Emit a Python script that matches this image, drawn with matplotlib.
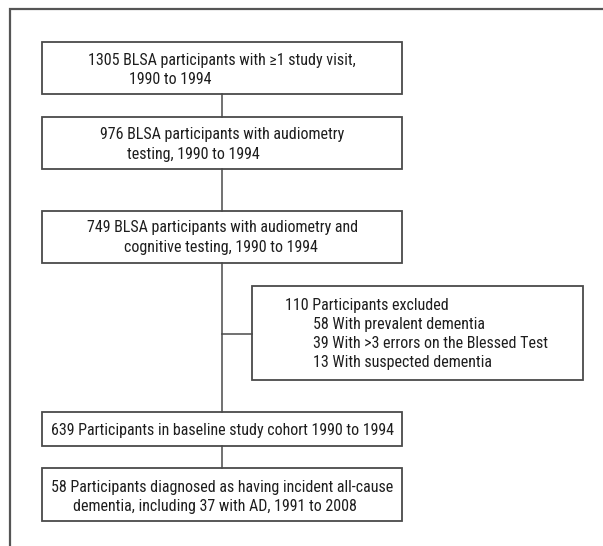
import matplotlib
matplotlib.use("Agg")
import matplotlib.pyplot as plt
from matplotlib.patches import Rectangle

plt.rcParams['font.family'] = ['Roboto Condensed', 'DejaVu Sans']

# ---- content ----
main_lines = [
    ["1305 BLSA participants with \u22651 study visit,", "1990 to 1994"],
    ["976 BLSA participants with audiometry", "testing, 1990 to 1994"],
    ["749 BLSA participants with audiometry and", "cognitive testing, 1990 to 1994"],
    ["639 Participants in baseline study cohort 1990 to 1994"],
    ["58 Participants diagnosed as having incident all-cause", "dementia, including 37 with AD, 1991 to 2008"],
]
excl_title = "110 Participants excluded"
excl_items = ["58 With prevalent dementia",
              "39 With >3 errors on the Blessed Test",
              "13 With suspected dementia"]

# ---- layout (pixel coordinates) ----
W, H = 603, 546
box_x0, box_x1 = 42, 402.3
box_y = [(41.7, 94.3), (117.3, 169.3), (210.7, 263.3), (412.3, 445.7), (468.0, 521.3)]
line_y = [(60, 79), (135, 154), (227.7, 247.3), (430,), (487.3, 506.7)]
second_x = [128.6, 126.7, 123.6, None, 72.8]
cx = 222.3
ex_x0, ex_x1, ex_y0, ex_y1 = 252, 583.3, 286.3, 379.7
branch_y = 333.7
ex_title_x, ex_item_x = 285, 312.7
ex_line_y = [305.3, 324.7, 343, 362.3]

edge = '#4a4a4a'
txt = '#1e1e1e'
fs = 11.55

fig = plt.figure(figsize=(W / 100, H / 100), dpi=100)
ax = fig.add_axes([0, 0, 1, 1])
ax.set_xlim(0, W)
ax.set_ylim(H, 0)
ax.axis('off')

# outer frame (top and left sides visible)
ax.plot([10, 10, W + 5], [H + 5, 9.3, 9.3], color='#555555', lw=1.6, solid_joinstyle='miter')

# main boxes
for (y0, y1), lines, ys, sx in zip(box_y, main_lines, line_y, second_x):
    ax.add_patch(Rectangle((box_x0, y0), box_x1 - box_x0, y1 - y0,
                           fill=False, edgecolor=edge, lw=1.3))
    ax.text(cx, ys[0], lines[0], ha='center', va='center', fontsize=fs, color=txt)
    if len(lines) > 1:
        ax.text(sx, ys[1], lines[1], ha='left', va='center', fontsize=fs, color=txt)

# connectors
for (a0, a1), (b0, b1) in zip(box_y[:-1], box_y[1:]):
    ax.plot([cx, cx], [a1, b0], color=edge, lw=1.1)
ax.plot([cx, ex_x0], [branch_y, branch_y], color=edge, lw=1.1)

# exclusion box
ax.add_patch(Rectangle((ex_x0, ex_y0), ex_x1 - ex_x0, ex_y1 - ex_y0,
                       fill=False, edgecolor=edge, lw=1.3))
ax.text(ex_title_x, ex_line_y[0], excl_title, ha='left', va='center', fontsize=fs, color=txt)
for y, s in zip(ex_line_y[1:], excl_items):
    ax.text(ex_item_x, y, s, ha='left', va='center', fontsize=fs, color=txt)

fig.savefig('out.png', dpi=100, facecolor='white')
